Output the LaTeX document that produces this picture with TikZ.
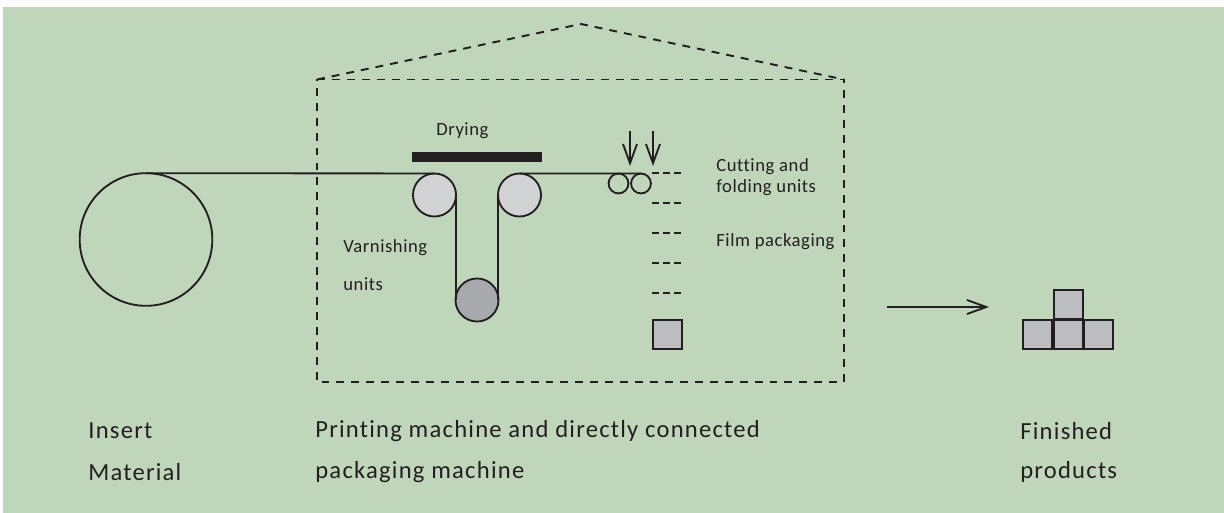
\documentclass[tikz,border=0pt]{standalone}
\usepackage{fontspec}
\setmainfont[Ligatures=NoCommon]{Carlito}
\usetikzlibrary{arrows.meta}
\definecolor{sheet}{HTML}{C0D6BA}
\definecolor{ink}{HTML}{231F20}
\definecolor{rollgray}{HTML}{D1D2D4}
\definecolor{rolldark}{HTML}{A7A9AC}
\definecolor{boxgray}{HTML}{BBBDC0}
\begin{document}
\begin{tikzpicture}[
        x=0.02cm, y=-0.02cm,
        web/.style = {draw=ink, line width=1.05pt},
        frame/.style = {draw=ink, line width=1.1pt, dash pattern=on 4.5pt off 4pt}, % Пунктир машины
        cutmark/.style = {draw=ink, line width=1.05pt, dash pattern=on 3.7pt off 2.7pt},
        feed/.style = {draw=ink, line width=1.05pt, -{Straight Barb[length=11pt, width=8pt]}},
        roll/.style = {circle, draw=ink, line width=1.05pt, inner sep=0pt, outer sep=0pt},
        pack/.style = {rectangle, draw=ink, line width=1.1pt, fill=boxgray, minimum size=16pt, inner sep=0pt, outer sep=0pt}, % Стиль упаковок
        small/.style = {anchor=west, text=ink, inner sep=0pt, font=\fontsize{10.6}{12}\selectfont\addfontfeatures{LetterSpace=3}},
        large/.style = {anchor=west, text=ink, inner sep=0pt, font=\fontsize{14}{16}\selectfont\addfontfeatures{LetterSpace=5}},
    ]

    \useasboundingbox (0,0) rectangle (1224,513);
    \fill[sheet] (3,7) rectangle (1224,513);

    \node[roll, minimum size=75.5pt] (source) at (146,239.5) {};

    % Ролики
    \node[roll, fill=rollgray, minimum size=24.5pt] (rollA) at (434.5,195) {};
    \node[roll, fill=rollgray, minimum size=24.5pt] (rollB) at (519.5,195) {};
    \node[roll, fill=rolldark, minimum size=24.5pt] (rollC) at (477,300) {};
    \node[roll, minimum size=11.3pt] (nipA) at (618.5,183.5) {};
    \node[roll, minimum size=11.3pt] (nipB) at (641,183.5) {};
    \node[fill=ink, minimum width=130*0.5669pt, minimum height=10*0.5669pt, inner sep=0pt] (dryer) at (477,157) {};

    \draw[web] (source.north) -- (rollA.north);
    \draw[web] (rollA.east) -- (rollA.east |- rollC.west);
    \draw[web] (rollB.west) -- (rollB.west |- rollC.east);
    \draw[web] (rollB.north) -- (nipB.north);

    % Стрелки над ножами
    \coordinate (feedA) at (630,131);
    \coordinate (feedB) at (653,131);
    \coordinate (feedAend) at (630,166);
    \coordinate (feedBend) at (653,166);
    \draw[feed] (feedA) -- (feedAend);
    \draw[feed] (feedB) -- (feedBend);

    % Линии реза
    \foreach \cut/\ypos in {a/173, b/203, c/233, d/263, e/293} {
        \coordinate (cut\cut L) at (652,\ypos);
        \coordinate (cut\cut R) at (683,\ypos);
        \draw[cutmark] (cut\cut L) -- (cut\cut R);
    }

    % Контур машины
    \coordinate (frameNW) at (317,79.5);
    \coordinate (frameNE) at (844,79.5);
    \coordinate (frameSE) at (844,382);
    \coordinate (frameSW) at (317,382);
    \coordinate (apex) at (581,24);
    \draw[frame] (frameNW) -- (frameNE) -- (frameSE) -- (frameSW) -- cycle;
    \draw[frame] (frameNW) -- (apex) -- (frameNE);

    \node[pack] (packSingle) at (667.5,334.5) {};
    \coordinate (outStart) at (887,307);
    \coordinate (outEnd) at (989,307);
    \draw[feed] (outStart) -- (outEnd);
    \node[pack] (packMid) at (1068.5,334.5) {};
    \node[pack] (packLeft) at (1037.5,334.5) {};
    \node[pack] (packRight) at (1098.5,334.5) {};
    \node[pack] (packTop) at (1068.5,304.5) {};

    \node[small] (dryingLabel) at (436,131) {Drying};
    \node[small] (cuttingLabel) at (716,167) {Cutting and};
    \node[small] (foldingLabel) at (716,188) {folding units};
    \node[small] (filmLabel) at (716,242) {Film packaging};
    \node[small] (varnishLabel) at (343,248) {Varnishing};
    \node[small] (unitsLabel) at (343,284) {units};
    \node[large] (insertLabel) at (88,431) {Insert};
    \node[large] (materialLabel) at (88,472) {Material};
    \node[large] (printLabel) at (315,431) {Printing machine and directly connected};
    \node[large] (packLabel) at (315,472) {packaging machine};
    \node[large] (finishedLabel) at (1020,431) {Finished};
    \node[large] (productsLabel) at (1020,472) {products};
\end{tikzpicture}
\end{document}
